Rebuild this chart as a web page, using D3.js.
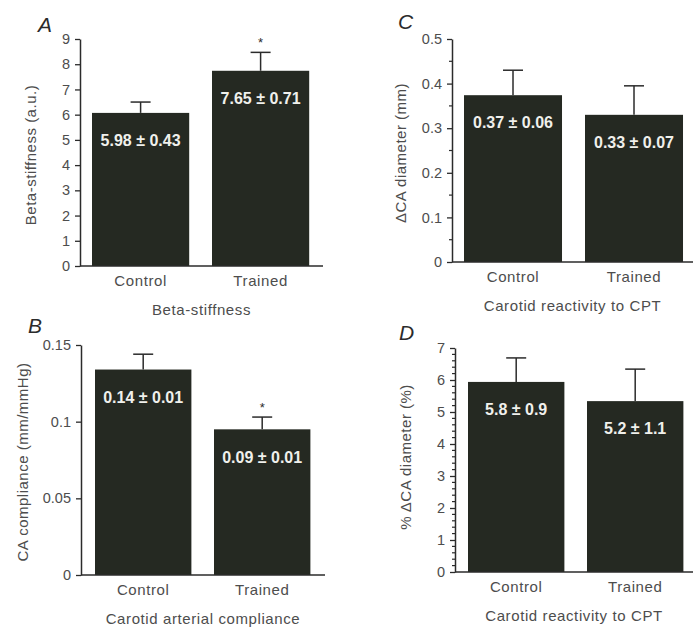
<!DOCTYPE html>
<html>
<head>
<meta charset="utf-8">
<script src="https://cdn.jsdelivr.net/npm/d3@7"></script>
<style>
  body { margin: 0; background: #fff; }
  text { font-family: "Liberation Sans", Arial, sans-serif; }
</style>
</head>
<body>
<svg id="chart" width="693" height="627"></svg>
<script>
const groups = ['Control', 'Trained'];

// A: beta-stiffness
const betaMean = [6.07, 7.74];
const betaErr = [0.43, 0.73];
const betaText = ['5.98 \u00b1 0.43', '7.65 \u00b1 0.71'];
const betaSig = [false, true];
const betaTicks = [0, 1, 2, 3, 4, 5, 6, 7, 8, 9];

// B: compliance
const compMean = [0.134, 0.095];
const compErr = [0.010, 0.008];
const compText = ['0.14 \u00b1 0.01', '0.09 \u00b1 0.01'];
const compSig = [false, true];
const compTicks = [0, 0.05, 0.1, 0.15];
const compTickText = ['0', '0.05', '0.1', '0.15'];

// C: delta CA diameter
const dcaMean = [0.374, 0.330];
const dcaErr = [0.056, 0.065];
const dcaText = ['0.37 \u00b1 0.06', '0.33 \u00b1 0.07'];
const dcaTicks = [0, 0.1, 0.2, 0.3, 0.4, 0.5];
const dcaTickText = ['0', '0.1', '0.2', '0.3', '0.4', '0.5'];
const dcaMinor = [0.05, 0.15, 0.25, 0.35, 0.45];

// D: % delta CA diameter
const pctMean = [5.94, 5.34];
const pctErr = [0.75, 1.0];
const pctText = ['5.8 \u00b1 0.9', '5.2 \u00b1 1.1'];
const pctTicks = [0, 1, 2, 3, 4, 5, 6, 7];
const pctMinor = [0.2, 0.4, 0.6, 0.8, 1.2, 1.4, 1.6, 1.8, 2.2, 2.4, 2.6, 2.8,
    3.2, 3.4, 3.6, 3.8, 4.2, 4.4, 4.6, 4.8, 5.2, 5.4, 5.6, 5.8, 6.2, 6.4, 6.6, 6.8];

const svg = d3.select('#chart');
const ink = '#2b2b2b';
const grey = '#4d4d4d';
const barFill = '#252922';

function panel(o) {
    const g = svg.append('g');

    const y = d3.scaleLinear().domain([0, o.max]).range([o.base, o.top]);
    const x = d3.scaleBand().domain(groups)
        .range([o.barStart - 0.1 * o.step, o.barStart + 1.91 * o.step])
        .paddingInner(0.19).paddingOuter(0.1);

    // minor ticks
    if (o.minor) {
        g.selectAll('.minor').data(o.minor).join('line')
            .attr('x1', o.axisX - 3).attr('x2', o.axisX)
            .attr('y1', d => y(d)).attr('y2', d => y(d))
            .attr('stroke', ink).attr('stroke-width', 1.2);
    }

    const yAxis = d3.axisLeft(y).tickValues(o.ticks).tickSize(5).tickSizeOuter(0).tickPadding(5)
        .tickFormat((d, i) => o.tickText ? o.tickText[i] : d);
    const ya = g.append('g').attr('transform', `translate(${o.axisX},0)`).call(yAxis);
    ya.select('.domain').attr('stroke', ink).attr('stroke-width', 1.5);
    ya.selectAll('.tick line').attr('stroke', ink).attr('stroke-width', 1.3);
    ya.selectAll('.tick text').attr('fill', grey).attr('font-size', 14.5);

    // bars
    g.selectAll('.bar').data(o.mean).join('rect')
        .attr('x', (d, i) => x(groups[i]))
        .attr('width', x.bandwidth())
        .attr('y', d => y(d))
        .attr('height', d => o.base - y(d))
        .attr('fill', barFill);

    // error bars (upper only)
    o.mean.forEach((m, i) => {
        const cx = x(groups[i]) + x.bandwidth() / 2;
        g.append('line').attr('x1', cx).attr('x2', cx)
            .attr('y1', y(m)).attr('y2', y(m + o.err[i]))
            .attr('stroke', ink).attr('stroke-width', 1.5);
        g.append('line').attr('x1', cx - 10).attr('x2', cx + 10)
            .attr('y1', y(m + o.err[i])).attr('y2', y(m + o.err[i]))
            .attr('stroke', ink).attr('stroke-width', 1.5);
        if (o.sig && o.sig[i]) {
            g.append('text').attr('x', cx).attr('y', y(m + o.err[i]) - 5)
                .attr('text-anchor', 'middle').attr('font-size', 13)
                .attr('fill', ink).text('*');
        }
        g.append('text').attr('x', cx).attr('y', y(m) + 29)
            .attr('text-anchor', 'middle').attr('dominant-baseline', 'middle')
            .attr('font-size', 16).attr('font-weight', 'bold')
            .attr('fill', '#f0f0ec').text(o.text[i]);
    });

    // x axis line
    g.append('line').attr('x1', o.axisX).attr('x2', o.axisEnd)
        .attr('y1', o.base).attr('y2', o.base)
        .attr('stroke', ink).attr('stroke-width', 1.5);

    g.selectAll('.cat').data(groups).join('text')
        .attr('x', d => x(d) + x.bandwidth() / 2)
        .attr('y', o.base + 16)
        .attr('text-anchor', 'middle').attr('dominant-baseline', 'middle')
        .attr('font-size', 15).attr('letter-spacing', 0.6)
        .attr('fill', grey).text(d => d);

    g.append('text')
        .attr('x', (o.axisX + o.axisEnd) / 2)
        .attr('y', o.base + 45)
        .attr('text-anchor', 'middle').attr('dominant-baseline', 'middle')
        .attr('font-size', 15).attr('letter-spacing', 0.6)
        .attr('fill', grey).text(o.title);

    g.append('text')
        .attr('transform', `translate(${o.yTitleX},${o.yTitleY}) rotate(-90)`)
        .attr('text-anchor', 'middle').attr('dominant-baseline', 'middle')
        .attr('font-size', 15).attr('letter-spacing', 0.5)
        .attr('fill', grey).text(o.yTitle);

    g.append('text').attr('x', o.letterX).attr('y', o.letterY)
        .attr('font-size', 21).attr('font-style', 'italic')
        .attr('fill', ink).text(o.letter);
}

panel({
    letter: 'A', letterX: 38, letterY: 32,
    mean: betaMean, err: betaErr, text: betaText, sig: betaSig,
    ticks: betaTicks, max: 9, base: 266, top: 39,
    axisX: 80, axisEnd: 323, barStart: 92, step: 120,
    title: 'Beta-stiffness',
    yTitle: 'Beta-stiffness (a.u.)', yTitleX: 32, yTitleY: 155
});

panel({
    letter: 'C', letterX: 398, letterY: 29,
    mean: dcaMean, err: dcaErr, text: dcaText,
    ticks: dcaTicks, tickText: dcaTickText, minor: dcaMinor, max: 0.5, base: 262, top: 39,
    axisX: 452, axisEnd: 693, barStart: 464, step: 121,
    title: 'Carotid reactivity to CPT',
    yTitle: '\u0394CA diameter (mm)', yTitleX: 402, yTitleY: 153
});

panel({
    letter: 'B', letterX: 28, letterY: 333,
    mean: compMean, err: compErr, text: compText, sig: compSig,
    ticks: compTicks, tickText: compTickText, max: 0.15, base: 575, top: 345,
    axisX: 81, axisEnd: 325, barStart: 95, step: 119,
    title: 'Carotid arterial compliance',
    yTitle: 'CA compliance (mm/mmHg)', yTitleX: 24, yTitleY: 462
});

panel({
    letter: 'D', letterX: 399, letterY: 340,
    mean: pctMean, err: pctErr, text: pctText,
    ticks: pctTicks, minor: pctMinor, max: 7, base: 572, top: 348,
    axisX: 455, axisEnd: 693, barStart: 468, step: 119,
    title: 'Carotid reactivity to CPT',
    yTitle: '% \u0394CA diameter (%)', yTitleX: 407, yTitleY: 457
});
</script>
</body>
</html>
